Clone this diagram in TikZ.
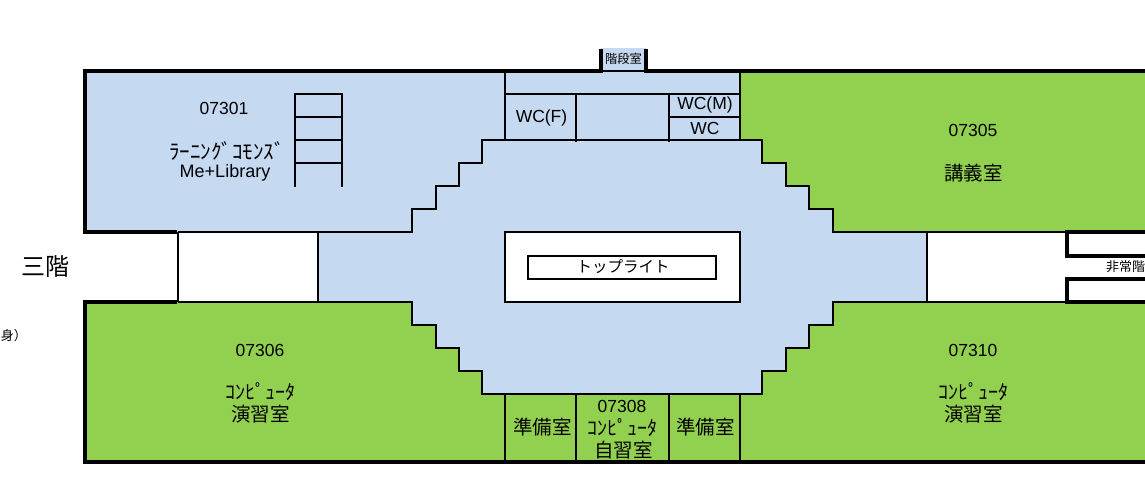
\documentclass[tikz,border=0pt]{standalone}
\usepackage{fontspec}
\setmainfont{Liberation Sans}
\newfontfamily\jpfont{Noto Sans CJK JP}
\definecolor{roomblue}{HTML}{C5D9F1}
\definecolor{roomgreen}{HTML}{92D050}
\tikzset{
	thickwall/.style={line width=4pt,line cap=square},
	thinwall/.style={line width=2pt},
	numlabel/.style={font=\fontsize{17.5}{18}\selectfont,inner sep=0pt},
	kanalabel/.style={font=\jpfont\fontsize{20}{20}\selectfont,inner sep=0pt},
	hanlabel/.style={font=\jpfont\fontsize{19.5}{20}\selectfont,inner sep=0pt}
}
\begin{document}
\begin{tikzpicture}[x=1pt,y=-1pt,line join=miter]
	\useasboundingbox (0,0) rectangle (1145,490);
	% floor areas
	\fill[roomblue] (85,71) -- (740,71) -- (740,140) -- (762,140) -- (762,163) -- (786,163) -- (786,186) -- (809,186) -- (809,209) -- (833,209) -- (833,232) -- (927,232) -- (927,302) -- (833,302) -- (833,325) -- (809,325) -- (809,348) -- (786,348) -- (786,371) -- (762,371) -- (762,394) -- (482,394) -- (482,371) -- (459,371) -- (459,348) -- (436,348) -- (436,325) -- (412,325) -- (412,302) -- (318,302) -- (318,232) -- (85,232) -- cycle;
	\fill[roomblue] (601,48) rectangle (646,71);
	\fill[roomgreen] (740,71) -- (1145,71) -- (1145,232) -- (833,232) -- (833,209) -- (809,209) -- (809,186) -- (786,186) -- (786,163) -- (762,163) -- (762,140) -- (740,140) -- cycle;
	\fill[roomgreen] (85,302) -- (412,302) -- (412,325) -- (436,325) -- (436,348) -- (459,348) -- (459,371) -- (482,371) -- (482,394) -- (762,394) -- (762,371) -- (786,371) -- (786,348) -- (809,348) -- (809,325) -- (833,325) -- (833,302) -- (1145,302) -- (1145,462) -- (85,462) -- cycle;
	% outer walls
	\draw[thickwall] (177,232) -- (85,232) -- (85,71) -- (601,71) -- (601,49);
	\draw[thickwall] (646,49) -- (646,71) -- (1147,71);
	\draw[thickwall] (177,302) -- (85,302) -- (85,462) -- (1147,462);
	\draw[thickwall] (1147,232) -- (1067,232) -- (1067,256) -- (1147,256);
	\draw[thickwall] (1147,279) -- (1067,279) -- (1067,302) -- (1147,302);
	% inner walls
	\draw[thinwall] (178,232) -- (412,232) -- (412,209) -- (436,209) -- (436,186) -- (459,186) -- (459,163) -- (482,163) -- (482,140) -- (762,140) -- (762,163) -- (786,163) -- (786,186) -- (809,186) -- (809,209) -- (833,209) -- (833,232) -- (1067,232);
	\draw[thinwall] (178,302) -- (412,302) -- (412,325) -- (436,325) -- (436,348) -- (459,348) -- (459,371) -- (482,371) -- (482,394) -- (762,394) -- (762,371) -- (786,371) -- (786,348) -- (809,348) -- (809,325) -- (833,325) -- (833,302) -- (1067,302);
	\foreach \x in {178,318,927}
		\draw[thinwall] (\x,232) -- (\x,302);
	\draw[thinwall] (601,71) -- (646,71);
	\draw[thinwall] (505,71) -- (505,140);
	\draw[thinwall] (740,71) -- (740,140);
	\draw[thinwall] (505,94) -- (740,94);
	\draw[thinwall] (576,94) -- (576,142);
	\draw[thinwall] (669,94) -- (669,142);
	\draw[thinwall] (669,117) -- (740,117);
	\foreach \x in {505,576,669,740}
		\draw[thinwall] (\x,394) -- (\x,462);
	% stairs in 07301
	\draw[thinwall] (295,187) -- (295,94) -- (342,94) -- (342,187);
	\foreach \y in {117,140,163}
		\draw[thinwall] (295,\y) -- (342,\y);
	% top light
	\draw[thinwall,fill=white] (505,232) rectangle (740,302);
	\node[draw,line width=2pt,minimum width=188pt,minimum height=23pt,inner sep=0pt] (toplight) at (622,267.5) {};
	\node[inner sep=0pt,font=\jpfont\fontsize{15.5}{16}\selectfont] (toplighttext) at (623,267) {トップライト};
	% labels
	\node[font=\jpfont\fontsize{24}{24}\selectfont,inner sep=0pt] (floor) at (45,267) {三階};
	\node[font=\jpfont\fontsize{13}{13}\selectfont,inner sep=0pt,anchor=east] (note) at (27,336) {身）};
	\node[font=\jpfont\fontsize{12.3}{13}\selectfont,inner sep=0pt] (stair) at (623.5,59) {階段室};
	\node[font=\jpfont\fontsize{13}{13}\selectfont,inner sep=0pt,anchor=west] (exit) at (1106,267) {非常階};
	\node[numlabel] (r301) at (224,108) {07301};
	\node[font=\jpfont\fontsize{21}{22}\selectfont,inner sep=0pt] (r301a) at (227,151) {ﾗｰﾆﾝｸﾞｺﾓﾝｽﾞ};
	\node[font=\fontsize{18}{18}\selectfont,inner sep=0pt] (r301b) at (225,173) {Me+Library};
	\node[numlabel] (wcf) at (541.5,117.5) {WC(F)};
	\node[numlabel] (wcm) at (705,105) {WC(M)};
	\node[numlabel] (wc) at (705,128) {WC};
	\node[numlabel] (r305) at (973,130) {07305};
	\node[hanlabel] (r305a) at (973.5,173) {講義室};
	\node[numlabel] (r306) at (260,350) {07306};
	\node[kanalabel] (r306a) at (260,392) {ｺﾝﾋﾟｭｰﾀ};
	\node[hanlabel] (r306b) at (260.5,414) {演習室};
	\node[numlabel] (r310) at (973,350) {07310};
	\node[kanalabel] (r310a) at (973,392) {ｺﾝﾋﾟｭｰﾀ};
	\node[hanlabel] (r310b) at (973.5,414) {演習室};
	\node[hanlabel] (prep1) at (542.5,427) {準備室};
	\node[hanlabel] (prep2) at (705.5,427) {準備室};
	\node[numlabel] (r308) at (622,406.5) {07308};
	\node[kanalabel] (r308a) at (622,428) {ｺﾝﾋﾟｭｰﾀ};
	\node[hanlabel] (r308b) at (623.5,450) {自習室};
\end{tikzpicture}
\end{document}
